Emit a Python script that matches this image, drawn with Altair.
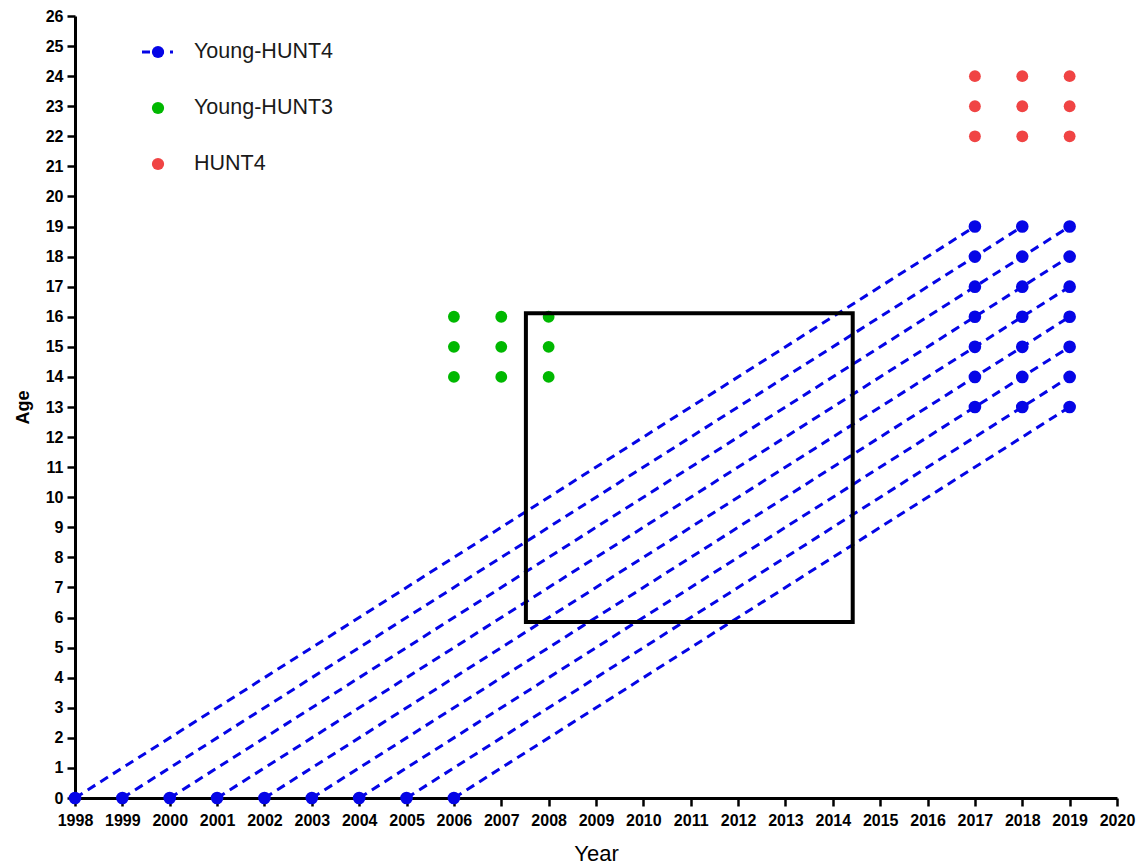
import altair as alt
import pandas as pd

# ---- data ----
birth_years = [1998, 1999, 2000, 2001, 2002, 2003, 2004, 2005, 2006]
line_end_year = [2017, 2018, 2019, 2019, 2019, 2019, 2019, 2019, 2019]
line_end_age = [19, 19, 19, 18, 17, 16, 15, 14, 13]

young_hunt4_years = [2017, 2018, 2019]
young_hunt4_ages = [13, 14, 15, 16, 17, 18, 19]
young_hunt3_years = [2006, 2007, 2008]
young_hunt3_ages = [14, 15, 16]
hunt4_years = [2017, 2018, 2019]
hunt4_ages = [22, 23, 24]

box_x = [2007.52, 2014.42]
box_y = [5.85, 16.12]

x_ticks = list(range(1998, 2021))
y_ticks = list(range(0, 27))

legend_labels = ["Young-HUNT4", "Young-HUNT3", "HUNT4"]

BLUE = "#0505e6"
GREEN = "#00b800"
RED = "#f04444"
FONT = "Liberation Sans"

# ---- tables ----
rows = []
for b, ey, ea in zip(birth_years, line_end_year, line_end_age):
    rows.append({"birth": b, "year": b, "age": 0, "o": 0})
    rows.append({"birth": b, "year": ey, "age": ea, "o": 1})
lines_df = pd.DataFrame(rows)

blue_df = pd.DataFrame([{"year": y, "age": a} for y in young_hunt4_years for a in young_hunt4_ages]
                       + [{"year": b, "age": 0} for b in birth_years])
green_df = pd.DataFrame([{"year": y, "age": a} for y in young_hunt3_years for a in young_hunt3_ages])
red_df = pd.DataFrame([{"year": y, "age": a} for y in hunt4_years for a in hunt4_ages])
box_df = pd.DataFrame({"year": [box_x[0]], "x2": [box_x[1]], "age": [box_y[0]], "y2": [box_y[1]]})

xscale = alt.Scale(domain=[1998, 2020], nice=False, zero=False)
yscale = alt.Scale(domain=[0, 26], nice=False)

xaxis = alt.Axis(values=x_ticks, format="d", title="Year", titleFontSize=22,
                 titleFontWeight="normal", titleBaseline="alphabetic", titleY=62,
                 labelPadding=6, labelFlush=False, labelOverlap=False)
yaxis = alt.Axis(values=y_ticks, format="d", title="Age", titleFontSize=18,
                 titleFontWeight="bold", titleX=-43, labelPadding=4, labelOverlap=False)

X = alt.X("year:Q", scale=xscale, axis=xaxis)
Y = alt.Y("age:Q", scale=yscale, axis=yaxis)

lines = alt.Chart(lines_df).mark_line(
    color=BLUE, strokeWidth=3, strokeDash=[9, 6], strokeCap="butt"
).encode(x=X, y=Y, detail="birth:N", order="o:Q")

def pts(df, color, size):
    return alt.Chart(df).mark_circle(color=color, size=size, opacity=1).encode(x=X, y=Y)

blue_pts = pts(blue_df, BLUE, 160)
green_pts = pts(green_df, GREEN, 140)
red_pts = pts(red_df, RED, 140)

box = alt.Chart(box_df).mark_rect(fill=None, stroke="black", strokeWidth=4).encode(
    x=X, x2="x2:Q", y=Y, y2="y2:Q",
)

# ---- manual legend ----
leg_y = [36, 92, 148]
leg_colors = [BLUE, GREEN, RED]
legend_layers = []
legend_layers.append(
    alt.Chart(pd.DataFrame({"a": [0]})).mark_rule(
        color=BLUE, strokeWidth=3, strokeDash=[8, 6], strokeCap="butt"
    ).encode(x=alt.value(67), x2=alt.value(98), y=alt.value(leg_y[0]))
)
for lbl, ly, col in zip(legend_labels, leg_y, leg_colors):
    legend_layers.append(
        alt.Chart(pd.DataFrame({"t": [lbl]})).mark_circle(color=col, size=150, opacity=1)
        .encode(x=alt.value(83), y=alt.value(ly))
    )
    legend_layers.append(
        alt.Chart(pd.DataFrame({"t": [lbl]})).mark_text(
            align="left", baseline="middle", font=FONT, fontSize=21.5, color="#1a1a1a"
        ).encode(x=alt.value(119), y=alt.value(ly), text="t:N")
    )

chart = alt.layer(lines, blue_pts, green_pts, red_pts, box, *legend_layers).properties(
    width=1042, height=782,
    autosize=alt.AutoSizeParams(type="none"),
    padding={"left": 67, "top": 8, "right": 19, "bottom": 66},
).configure_view(stroke=None).configure_axis(
    grid=False,
    labelFont=FONT, labelFontSize=16, labelFontWeight="bold", labelColor="black",
    titleFont=FONT, titleColor="black",
    domainColor="black", domainWidth=3,
    tickColor="black", tickWidth=2.5, tickSize=8,
)

chart.save("out.html", embed_options={"renderer": "svg", "actions": False})
